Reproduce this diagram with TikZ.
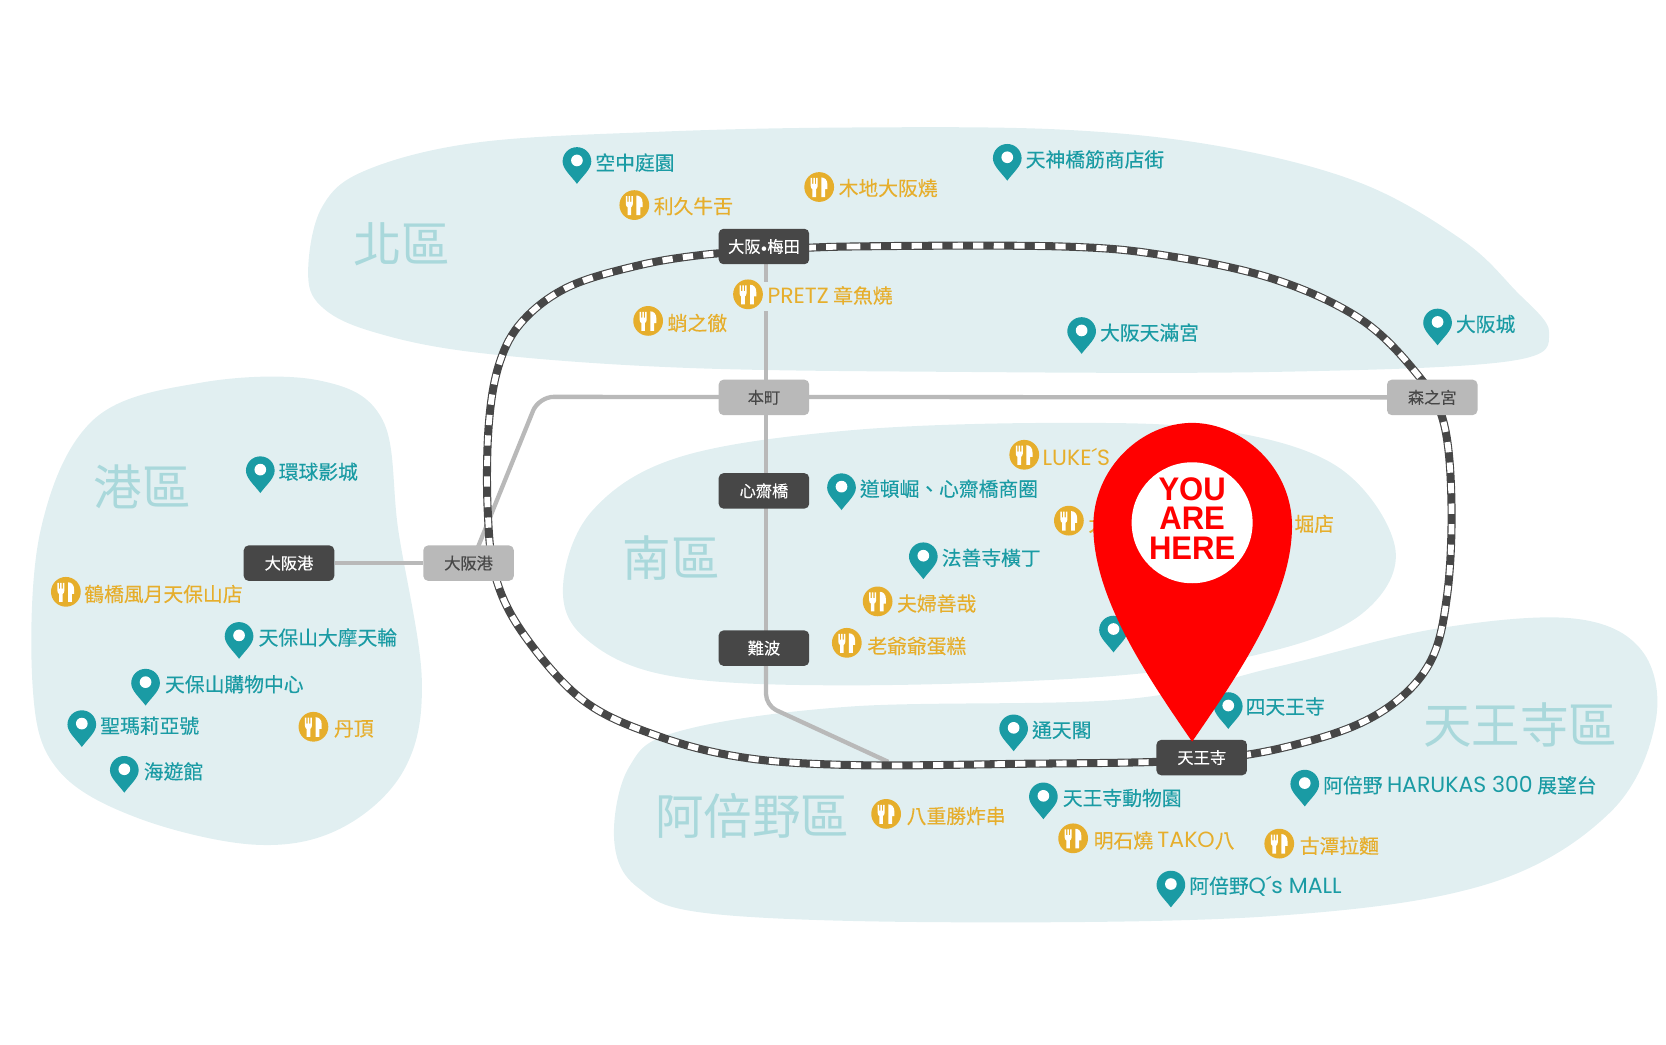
\documentclass[tikz,border=0pt]{standalone}
\usepackage{fontspec}
\setmainfont[FakeBold=0.2]{Noto Sans CJK TC}
\newfontfamily\regionfont{Noto Sans CJK TC}
\newfontfamily\latinfont{Poppins}
\newfontfamily\pinfont[FakeStretch=0.95]{Liberation Sans Bold}
\definecolor{blob}{HTML}{E1EFF1}
\definecolor{regiontext}{HTML}{A9D8DB}
\definecolor{tealc}{HTML}{1A9BA4}
\definecolor{goldc}{HTML}{E6AE2C}
\definecolor{stdark}{HTML}{474747}
\definecolor{stgrey}{HTML}{B9B9B9}
\definecolor{pinred}{HTML}{FF0000}
\pgfdeclarelayer{blobs}
\pgfdeclarelayer{lines}
\pgfsetlayers{blobs,lines,main}
\tikzset{
  x=0.02cm,y=-0.02cm,
  region/.style={fill=blob,draw=none},
  regionname/.style={text=regiontext,font=\regionfont\fontsize{26}{28}\selectfont,inner sep=0pt},
  lab/.style={anchor=west,inner sep=0pt,font=\fontsize{10.6}{12}\selectfont},
  poi/.style={lab,text=tealc},
  eat/.style={lab,text=goldc},
  station/.style={rounded corners=2.6pt,minimum width=48.5pt,minimum height=19pt,inner sep=0pt,font=\fontsize{8.7}{10}\selectfont},
  stationdark/.style={station,fill=stdark,text=white},
  stationgrey/.style={station,fill=stgrey,text=stdark},
  subway/.style={draw=stgrey,line width=2.3pt,line cap=butt},
  loopline/.style={smooth cycle,tension=0.6},
}
\newcommand{\lat}[1]{{\latinfont\fontsize{11.8}{12}\selectfont #1}}
\newcommand{\looppoints}{(719,236) (800,232) (1000,232) (1100,241) (1200,263) (1280,300) (1332,350) (1358,395) (1366,470) (1362,560) (1345,625) (1300,670) (1230,698) (1131,715) (950,719) (800,720) (700,713) (620,693) (550,660) (495,600) (467,545) (459,480) (460,400) (470,342) (492,302) (535,270) (600,250) (660,240)}
\newcommand{\pinicon}[2]{%
  \begin{scope}[shift={(#1,#2)}]
    \fill[tealc] (0,21) .. controls (-6,13) and (-13.5,7) .. (-13.5,0)
      .. controls (-13.5,-7.5) and (-7.5,-13.5) .. (0,-13.5)
      .. controls (7.5,-13.5) and (13.5,-7.5) .. (13.5,0)
      .. controls (13.5,7) and (6,13) .. (0,21) -- cycle;
    \fill[white] (0,-1) circle[radius=5.5];
  \end{scope}}
\newcommand{\foodicon}[2]{%
  \begin{scope}[shift={(#1,#2)}]
    \fill[goldc] (0,0) circle[radius=14];
    \fill[white] (-8,-8.5) -- (-6.6,-8.5) -- (-6.6,-3) -- (-5.4,-3) -- (-5.4,-8.5) -- (-4,-8.5) -- (-4,-3) -- (-2.8,-3) -- (-2.8,-8.5) -- (-1.4,-8.5)
      -- (-1.4,-1) .. controls (-1.4,1) and (-2.6,1.5) .. (-3,2) -- (-3,9.5) -- (-6.4,9.5) -- (-6.4,2) .. controls (-7,1.5) and (-8,1) .. (-8,-1) -- cycle;
    \fill[white] (2,-9) .. controls (5,-9) and (7.8,-7) .. (7.8,-2) -- (7.8,2) -- (5.6,2) -- (5.6,9.5) -- (2,9.5) -- cycle;
  \end{scope}}
\begin{document}
\begin{tikzpicture}
\useasboundingbox (0,0) rectangle (1568,983.5);

% stations
\node[stationdark] (umeda) at (719,232) {大阪\raisebox{0.6pt}{$\scriptscriptstyle\bullet$}梅田};
\node[stationgrey] (honmachi) at (719,374) {本町};
\node[stationdark] (shinsai) at (719,462) {心齋橋};
\node[stationdark] (namba) at (719,610) {難波};
\node[stationgrey] (morinomiya) at (1348,374) {森之宮};
\node[stationdark] (portdark) at (272,530) {大阪港};
\node[stationgrey] (portgrey) at (441,530) {大阪港};
\node[stationdark] (tennoji) at (1131,713) {天王寺};

\begin{pgfonlayer}{blobs}
  % 北區
  \fill[region] plot[smooth cycle,tension=0.6] coordinates {(290,255) (303,195) (345,160) (450,134) (620,124) (800,120) (1000,122) (1150,138) (1280,172) (1375,225) (1425,272) (1458,313) (1420,340) (1200,350) (900,350) (640,346) (450,332) (350,312) (302,288)};
  % 港區
  \fill[region] plot[smooth cycle,tension=0.6] coordinates {(31,650) (38,500) (88,395) (190,360) (300,358) (360,395) (375,500) (397,640) (380,725) (320,780) (240,795) (130,770) (55,725)};
  % 南區
  \fill[region] plot[smooth cycle,tension=0.6] coordinates {(530,550) (558,480) (640,430) (800,405) (1000,398) (1150,405) (1260,440) (1313,515) (1285,575) (1200,612) (1050,636) (800,645) (630,636) (550,600)};
  % 阿倍野區 / 天王寺區
  \fill[region] plot[smooth cycle,tension=0.6] coordinates {(578,790) (592,722) (640,688) (800,665) (1060,658) (1200,628) (1350,592) (1480,582) (1545,612) (1558,680) (1515,765) (1400,832) (1200,862) (900,868) (670,860) (600,835)};
\end{pgfonlayer}

\begin{pgfonlayer}{lines}
  \coordinate (gapa) at (721,265);
  \coordinate (gapb) at (721,293);
  \coordinate (umedafoot) at (721,232);
  \coordinate (hontop) at (721,374);
  \coordinate (nambafoot) at (721,610);
  \coordinate (bend) at (721,664);
  \coordinate (branchend) at (836,717);
  \coordinate (westbend) at (507,373.5);
  \coordinate (westend) at (449,517);
  \draw[subway] (umedafoot) -- (gapa);
  \draw[subway] (gapb) -- (hontop) -- (nambafoot);
  \draw[subway,rounded corners=6pt] (nambafoot) -- (bend) -- (branchend);
  \draw[subway,rounded corners=8pt] (morinomiya.center) -- (westbend) -- (westend);
  \draw[subway] (portdark) -- (portgrey);
  % loop line
  \draw[stdark,line width=4.3pt] plot[loopline] coordinates {\looppoints};
  \draw[white,line width=3.1pt,dash pattern=on 5.5pt off 5.5pt] plot[loopline] coordinates {\looppoints};
\end{pgfonlayer}

% region names
\node[regionname] (rnorth) at (378,230) {北區};
\node[regionname] (rport) at (134,458) {港區};
\node[regionname] (rsouth) at (632,525) {南區};
\node[regionname] (rabeno) at (708,768) {阿倍野區};
\node[regionname] (rtennoji) at (1431,682) {天王寺區};

% sights
\pinicon{543}{152}\node[poi] (p1) at (560,153) {空中庭園};
\pinicon{948}{149}\node[poi] (p2) at (965,150) {天神橋筋商店街};
\pinicon{1018}{312}\node[poi] (p3) at (1035,313) {大阪天滿宮};
\pinicon{1353}{304}\node[poi] (p4) at (1370,305) {大阪城};
\pinicon{245}{443}\node[poi] (p5) at (262,444) {環球影城};
\pinicon{792}{459}\node[poi] (p6) at (809,460) {道頓崛、心齋橋商圈};
\pinicon{869}{524}\node[poi] (p7) at (886,525) {法善寺橫丁};
\pinicon{225}{599}\node[poi] (p8) at (243,600) {天保山大摩天輪};
\pinicon{137}{643}\node[poi] (p9) at (155,644) {天保山購物中心};
\pinicon{77}{682}\node[poi] (p10) at (94,683) {聖瑪莉亞號};
\pinicon{117}{725}\node[poi] (p11) at (135,726) {海遊館};
\pinicon{954}{686}\node[poi] (p12) at (971,687) {通天閣};
\pinicon{1156}{665}\node[poi] (p13) at (1172,665) {四天王寺};
\pinicon{982}{750}\node[poi] (p14) at (1000,751) {天王寺動物園};
\pinicon{1228}{738}\node[poi] (p15) at (1245,739) {阿倍野 \lat{HARUKAS 300} 展望台};
\pinicon{1102}{833}\node[poi] (p16) at (1119,834) {阿倍野\lat{Q´s MALL}};
\pinicon{1048}{593}

% food
\foodicon{597}{193}\node[eat] (f1) at (615,194) {利久牛舌};
\foodicon{771}{176}\node[eat] (f2) at (789,177) {木地大阪燒};
\foodicon{704}{277}\node[eat] (f3) at (722,278) {\lat{PRETZ} 章魚燒};
\foodicon{610}{302}\node[eat] (f4) at (628,304) {蛸之徹};
\foodicon{964}{428}\node[eat] (f5) at (981,430) {\lat{LUKE´S}};
\foodicon{1006}{490}\node[eat] (f6) at (1024,493) {大};
\node[eat] (f6b) at (1218,493) {堀店};
\foodicon{826}{566}\node[eat] (f7) at (844,568) {夫婦善哉};
\foodicon{797}{605}\node[eat] (f8) at (816,608) {老爺爺蛋糕};
\foodicon{62}{557}\node[eat] (f9) at (79,559) {鶴橋風月天保山店};
\foodicon{295}{684}\node[eat] (f10) at (314,686) {丹頂};
\foodicon{834}{766}\node[eat] (f11) at (853,768) {八重勝炸串};
\foodicon{1010}{789}\node[eat] (f12) at (1029,791) {明石燒 \lat{TAKO}八};
\foodicon{1204}{794}\node[eat] (f13) at (1223,796) {古潭拉麵};

% big pin
\fill[pinred] (1122,698) .. controls (1075,630) and (1029,560) .. (1029,495)
  .. controls (1029,440) and (1075,398) .. (1122,398)
  .. controls (1169,398) and (1216,440) .. (1216,495)
  .. controls (1216,560) and (1169,630) .. (1122,698) -- cycle;
\node[circle,fill=white,minimum size=64.8pt,inner sep=0pt] (here) at (1122,492) {};
\node[align=center,text=pinred,inner sep=0pt,font=\pinfont\fontsize{17.5}{15.7}\selectfont] (heretext) at (1122,488) {YOU\\ARE\\HERE};
\end{tikzpicture}
\end{document}
